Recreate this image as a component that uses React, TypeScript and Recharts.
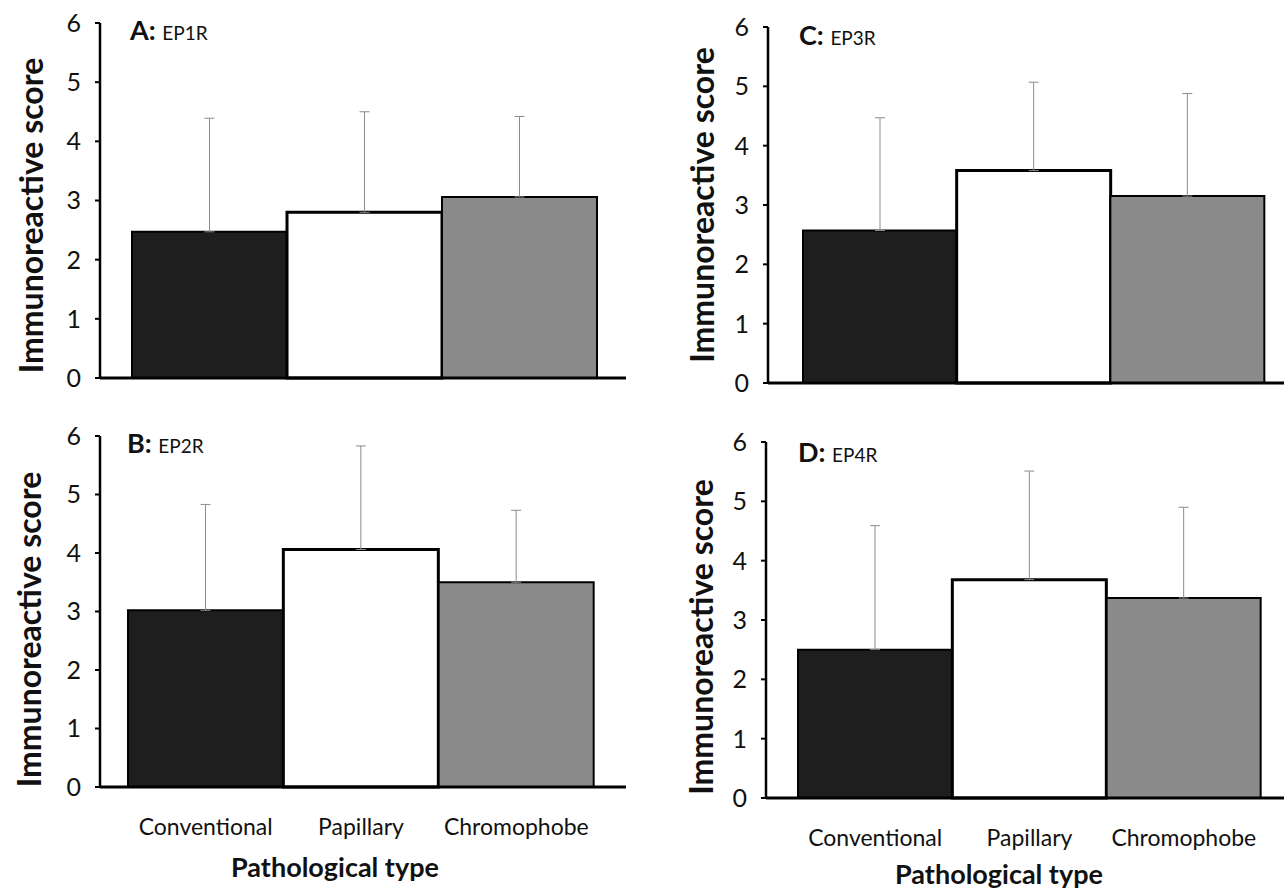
import React from 'react';
import { BarChart, Bar, XAxis, YAxis, Cell, ErrorBar } from 'recharts';

const categories = ['Conventional', 'Papillary', 'Chromophobe'];
const yTicks = [0, 1, 2, 3, 4, 5, 6];
const barFills = ['#1e1e1e', '#ffffff', '#8a8a8a'];

const ep1rMeans = [2.47, 2.8, 3.06];
const ep1rSD = [1.92, 1.7, 1.36];
const ep2rMeans = [3.02, 4.06, 3.5];
const ep2rSD = [1.81, 1.77, 1.23];
const ep3rMeans = [2.57, 3.58, 3.15];
const ep3rSD = [1.9, 1.49, 1.73];
const ep4rMeans = [2.5, 3.68, 3.37];
const ep4rSD = [2.09, 1.83, 1.53];

const FONT = "Lato, 'Open Sans', sans-serif";
const TEXT = '#111111';

function build(means: number[], sds: number[]) {
  return categories.map((c, i) => ({ name: c, value: means[i], err: [0, sds[i]] }));
}

type Panel = {
  letter: string;
  receptor: string;
  data: any[];
  left: number;
  top: number;
  width: number;
  height: number;
  marginTop: number;
  marginRight: number;
  yAxisWidth: number;
  xAxisHeight: number;
  padLeft: number;
  padRight: number;
  showX: boolean;
  yLabelDx: number;
  yLabelDy: number;
  titleDx: number;
  titleDy: number;
  xLabelDx: number;
  xLabelDy: number;
};

const panels: Panel[] = [
  {
    letter: 'A:', receptor: 'EP1R', data: build(ep1rMeans, ep1rSD),
    left: 0, top: 0, width: 642, height: 400, marginTop: 23, marginRight: 16,
    yAxisWidth: 100, xAxisHeight: 22, padLeft: 32, padRight: 29, showX: false,
    yLabelDx: 70, yLabelDy: 15, titleDx: 30, titleDy: 17, xLabelDx: 0, xLabelDy: 0,
  },
  {
    letter: 'B:', receptor: 'EP2R', data: build(ep2rMeans, ep2rSD),
    left: 0, top: 400, width: 642, height: 492, marginTop: 36, marginRight: 16,
    yAxisWidth: 100, xAxisHeight: 105, padLeft: 28, padRight: 32, showX: true,
    yLabelDx: 72, yLabelDy: 18, titleDx: 27, titleDy: 17, xLabelDx: -28, xLabelDy: 90,
  },
  {
    letter: 'C:', receptor: 'EP3R', data: build(ep3rMeans, ep3rSD),
    left: 642, top: 0, width: 642, height: 400, marginTop: 27, marginRight: 0,
    yAxisWidth: 126, xAxisHeight: 17, padLeft: 35, padRight: 20, showX: false,
    yLabelDx: 67, yLabelDy: 0, titleDx: 31, titleDy: 18, xLabelDx: 0, xLabelDy: 0,
  },
  {
    letter: 'D:', receptor: 'EP4R', data: build(ep4rMeans, ep4rSD),
    left: 642, top: 400, width: 642, height: 492, marginTop: 42, marginRight: 0,
    yAxisWidth: 124, xAxisHeight: 94, padLeft: 32, padRight: 23, showX: true,
    yLabelDx: 66, yLabelDy: 17, titleDx: 32, titleDy: 20, xLabelDx: -26, xLabelDy: 86,
  },
];

function PanelChart({ p }: { p: Panel }) {
  const yLabel = (props: any) => {
    const vb = props.viewBox || {};
    const axisX = vb.x + vb.width;
    const cx = axisX - p.yLabelDx;
    const cy = vb.y + vb.height / 2 + p.yLabelDy;
    return (
      <g>
        <text
          x={cx}
          y={cy}
          transform={`rotate(-90 ${cx} ${cy})`}
          textAnchor="middle"
          dominantBaseline="central"
          fontFamily={FONT}
          fontWeight={700}
          fontSize={32}
          fill={TEXT}
        >
          Immunoreactive score
        </text>
        <text x={axisX + p.titleDx} y={vb.y + p.titleDy} fontFamily={FONT} fill={TEXT}>
          <tspan fontWeight={700} fontSize={27}>{p.letter} </tspan>
          <tspan fontSize={19}>{p.receptor}</tspan>
        </text>
      </g>
    );
  };

  const xLabel = (props: any) => {
    const vb = props.viewBox || {};
    if (!p.showX) return null;
    return (
      <text
        x={vb.x + vb.width / 2 + p.xLabelDx}
        y={vb.y + p.xLabelDy}
        textAnchor="middle"
        fontFamily={FONT}
        fontWeight={700}
        fontSize={27}
        fill={TEXT}
      >
        Pathological type
      </text>
    );
  };

  return (
    <div style={{ position: 'absolute', left: p.left, top: p.top, width: p.width, height: p.height }}>
      <BarChart
        width={p.width}
        height={p.height}
        data={p.data}
        margin={{ top: p.marginTop, right: p.marginRight, bottom: 0, left: 0 }}
        barCategoryGap={0}
        barGap={0}
      >
        <XAxis
          dataKey="name"
          type="category"
          height={p.xAxisHeight}
          padding={{ left: p.padLeft, right: p.padRight }}
          axisLine={{ stroke: '#000', strokeWidth: 3 }}
          tickLine={false}
          tickSize={0}
          tickMargin={32}
          tick={p.showX ? { fontFamily: FONT, fontSize: 23, fill: TEXT } : false}
          label={{ content: xLabel }}
        />
        <YAxis
          type="number"
          domain={[0, 6]}
          ticks={yTicks}
          interval={0}
          width={p.yAxisWidth}
          axisLine={{ stroke: '#000', strokeWidth: 2.5 }}
          tickLine={{ stroke: '#000', strokeWidth: 2 }}
          tickSize={5}
          tickMargin={14}
          tick={{ fontFamily: FONT, fontSize: 25, fill: TEXT }}
          label={{ content: yLabel }}
        />
        <Bar dataKey="value" isAnimationActive={false} stroke="#000" strokeWidth={2}>
          {p.data.map((d, i) => (
            <Cell key={d.name} fill={barFills[i]} strokeWidth={i === 1 ? 3 : 2} />
          ))}
          <ErrorBar dataKey="err" direction="y" width={5} stroke="#8c8c8c" strokeWidth={1} />
        </Bar>
      </BarChart>
    </div>
  );
}

export default function App() {
  return (
    <div style={{ position: 'absolute', left: 0, top: 0, width: 1284, height: 892, background: '#fff', overflow: 'hidden' }}>
      {panels.map((p) => (
        <PanelChart key={p.letter} p={p} />
      ))}
    </div>
  );
}
